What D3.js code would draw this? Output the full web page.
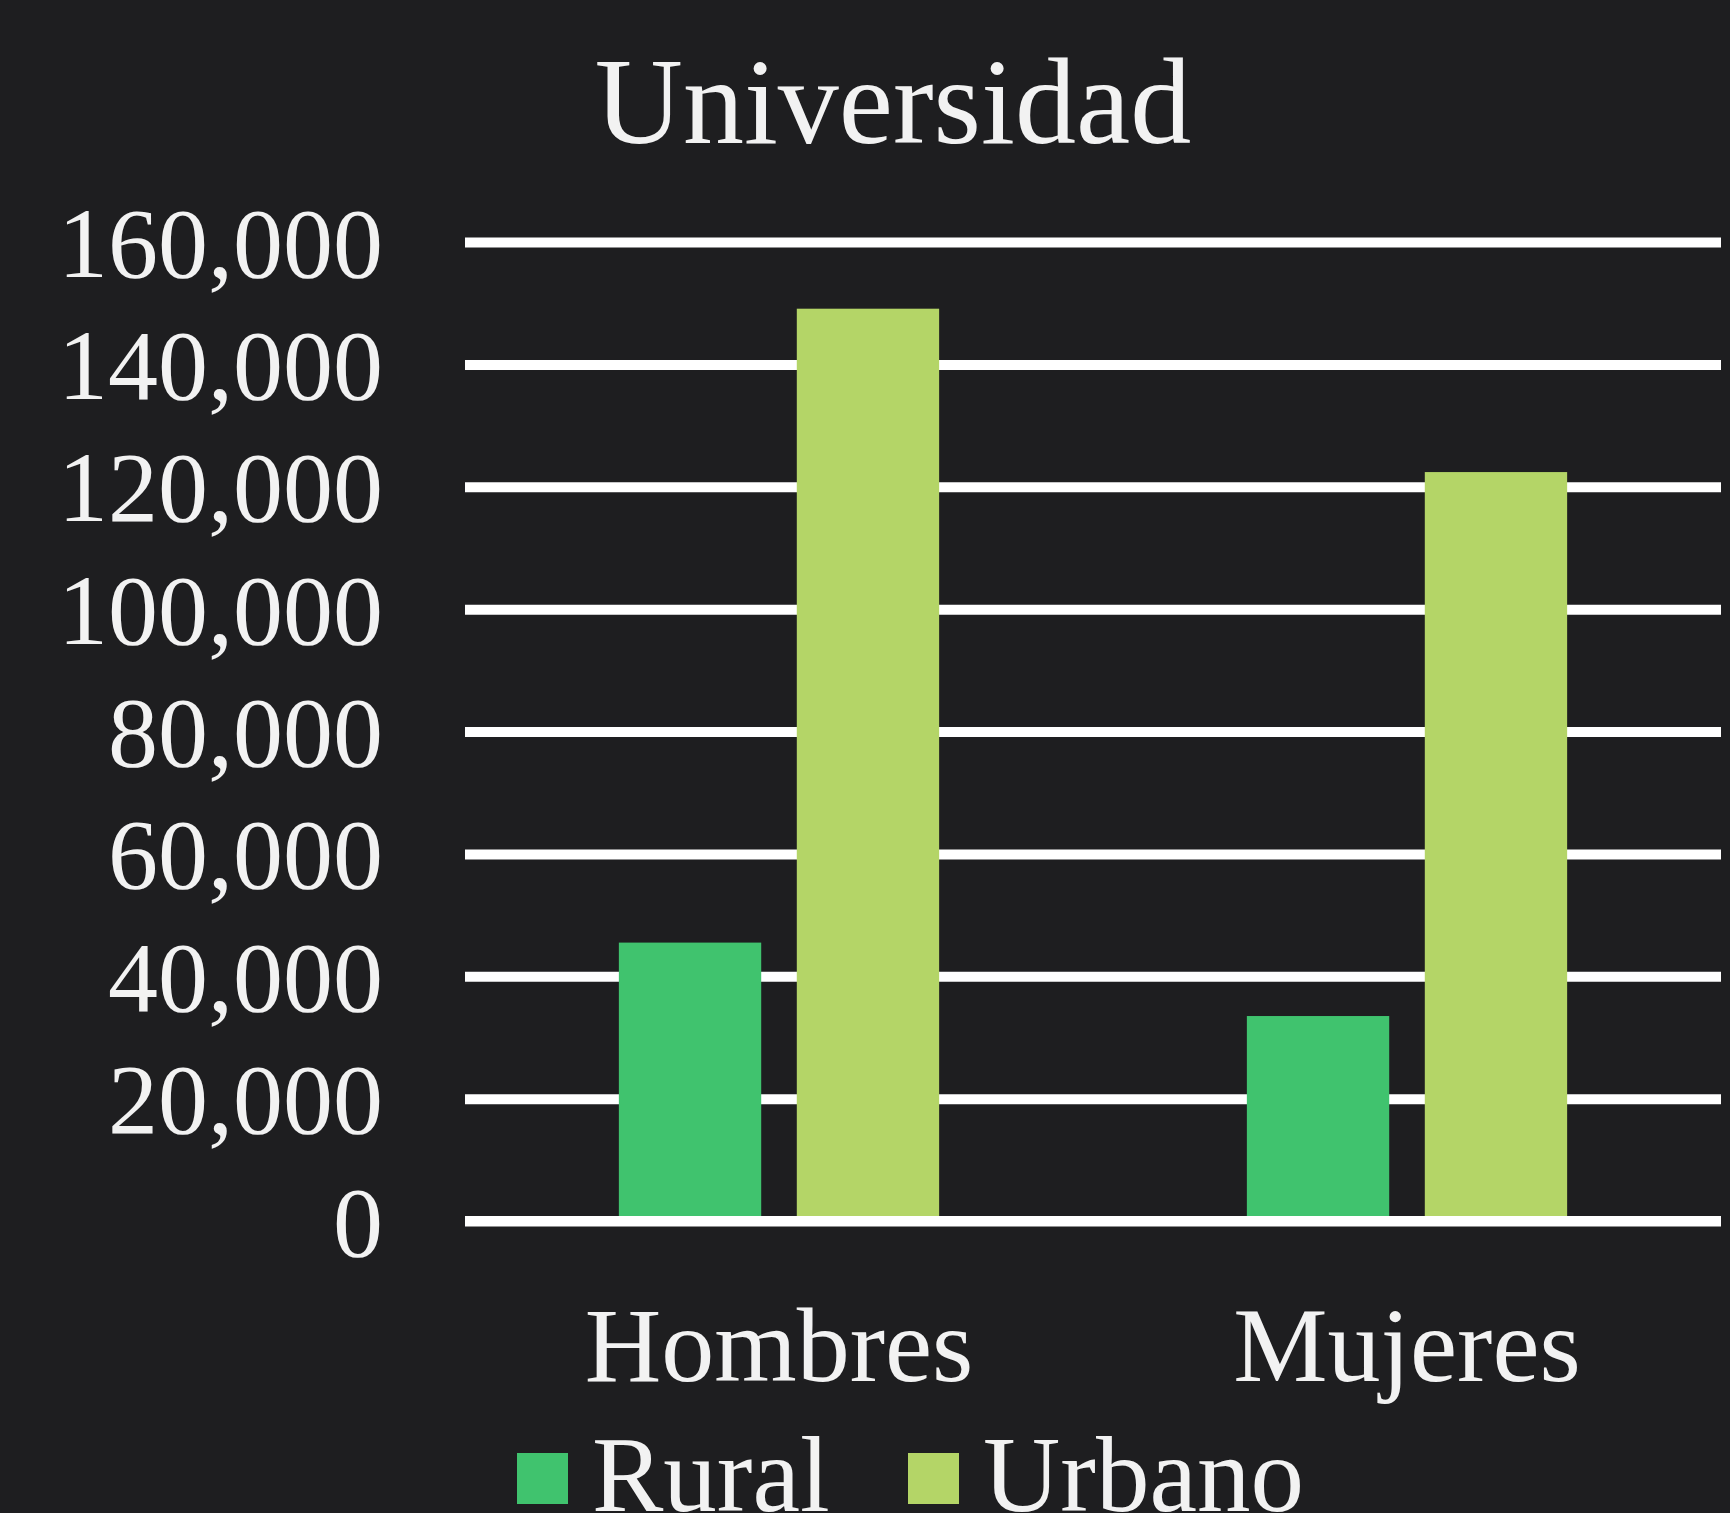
<!DOCTYPE html>
<html>
<head>
<meta charset="utf-8">
<script src="https://cdn.jsdelivr.net/npm/d3@7"></script>
<style>
  html, body { margin: 0; padding: 0; background: #1e1e20; }
  svg { display: block; }
  text { font-family: "Liberation Serif", "DejaVu Serif", serif; fill: #f2f2f2; }
</style>
</head>
<body>
<script>
// ---- data ----
const categories = ["Hombres", "Mujeres"];
const seriesNames = ["Rural", "Urbano"];
const rural = [45500, 33500];
const urbano = [149100, 122400];
const yTicks = [0, 20000, 40000, 60000, 80000, 100000, 120000, 140000, 160000];
const yTickLabels = ["0", "20,000", "40,000", "60,000", "80,000", "100,000", "120,000", "140,000", "160,000"];
const colors = ["#40c36e", "#b4d567"];
const title = "Universidad";

// ---- layout ----
const W = 1730, H = 1513;
const plot = { left: 465, right: 1721, top: 242, bottom: 1221 };

const svg = d3.select("body").append("svg").attr("width", W).attr("height", H);
svg.append("rect").attr("width", W).attr("height", H).attr("fill", "#1e1e20");

const y = d3.scaleLinear().domain([0, 160000]).range([plot.bottom, plot.top]);
const x0 = d3.scaleBand().domain(categories).range([plot.left, plot.right])
  .paddingInner(0.49).paddingOuter(0.245);
const x1 = d3.scaleBand().domain(seriesNames).range([0, x0.bandwidth()]).paddingInner(0.2);
const color = d3.scaleOrdinal().domain(seriesNames).range(colors);

// title
svg.append("text").attr("x", 893).attr("y", 143).attr("text-anchor", "middle")
  .attr("font-size", 122).text(title);

// gridlines
const grid = svg.append("g").attr("transform", `translate(${plot.left},0)`)
  .call(d3.axisLeft(y).tickValues(yTicks).tickSize(-(plot.right - plot.left)).tickFormat(""));
grid.select(".domain").remove();
grid.selectAll("line").attr("stroke", "#ffffff").attr("stroke-width", 10);

// y labels
const yAxis = svg.append("g").attr("transform", `translate(${plot.left},0)`)
  .call(d3.axisLeft(y).tickValues(yTicks).tickSize(0).tickPadding(82)
    .tickFormat((d, i) => yTickLabels[i]));
yAxis.select(".domain").remove();
yAxis.selectAll("text").attr("font-size", 100).attr("fill", "#f2f2f2")
  .attr("font-family", '"Liberation Serif", serif').attr("dy", "0.34em");

// bars
const rows = categories.map((c, i) => ({ cat: c, values: [rural[i], urbano[i]] }));
const groups = svg.append("g").selectAll("g").data(rows).join("g")
  .attr("transform", d => `translate(${x0(d.cat)},0)`);
groups.selectAll("rect").data(d => d.values.map((v, j) => ({ key: seriesNames[j], v })))
  .join("rect")
  .attr("x", d => x1(d.key))
  .attr("width", x1.bandwidth())
  .attr("y", d => y(d.v))
  .attr("height", d => y(0) - y(d.v))
  .attr("fill", d => color(d.key));

// zero line on top
svg.append("line").attr("x1", plot.left).attr("x2", plot.right)
  .attr("y1", y(0)).attr("y2", y(0)).attr("stroke", "#ffffff").attr("stroke-width", 10);

// x labels
const xAxis = svg.append("g").attr("transform", `translate(0,${plot.bottom})`)
  .call(d3.axisBottom(x0).tickSize(0).tickPadding(0));
xAxis.select(".domain").remove();
xAxis.selectAll("text").attr("font-size", 106).attr("fill", "#f2f2f2")
  .attr("font-family", '"Liberation Serif", serif')
  .attr("dy", 0).attr("y", 160);

// legend
const legendX = [517, 908];
const lg = svg.append("g").selectAll("g").data(seriesNames).join("g")
  .attr("transform", (d, i) => `translate(${legendX[i]},1453)`);
lg.append("rect").attr("width", 51).attr("height", 51).attr("fill", d => color(d));
lg.append("text").attr("x", 75).attr("y", 58).attr("font-size", 107).text(d => d);
</script>
</body>
</html>
